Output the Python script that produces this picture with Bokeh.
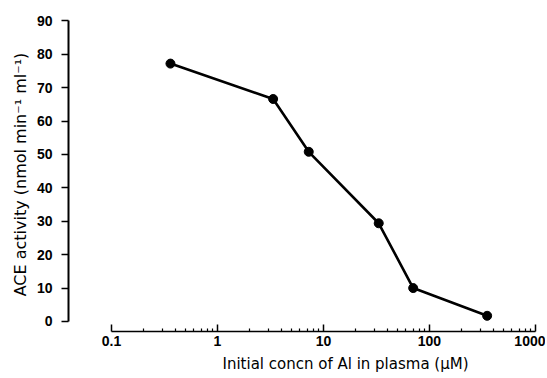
from bokeh.plotting import figure
from bokeh.models import Range1d, FixedTicker, Title
from bokeh.embed import file_html
from bokeh.resources import INLINE

# Data
conc_uM = [0.36, 3.35, 7.26, 33.2, 70.2, 350.0]
ace_activity = [77.2, 66.6, 50.8, 29.4, 10.0, 1.7]

x_ticks = [0.1, 1, 10, 100, 1000]
x_tick_labels = ["0.1", "1", "10", "100", "1000"]
y_ticks = [0, 10, 20, 30, 40, 50, 60, 70, 80, 90]

x_minor = [m * d for d in [0.1, 1, 10, 100] for m in range(2, 10)]

FONT = "Liberation Sans"
LFONT = "DejaVu Sans"

p = figure(width=545, height=376, x_axis_type="log",
           x_range=Range1d(0.0393, 1045), y_range=Range1d(-3.0, 91),
           output_backend="svg", toolbar_location=None,
           min_border_left=68, min_border_top=17, min_border_right=8,
           min_border_bottom=20)

p.outline_line_color = None
p.xgrid.visible = False
p.ygrid.visible = False
p.background_fill_color = "white"
p.border_fill_color = "white"

p.line(conc_uM, ace_activity, line_width=2.6, color="black")
p.scatter(conc_uM, ace_activity, size=9, color="black")

# y axis
ya = p.yaxis[0]
ya.ticker = FixedTicker(ticks=y_ticks)
ya.bounds = (0, 90)
ya.axis_line_width = 2
ya.axis_line_color = "black"
ya.major_tick_in = 0
ya.major_tick_out = 7
ya.major_tick_line_width = 1.5
ya.major_tick_line_color = "black"
ya.minor_tick_line_color = None
ya.major_label_standoff = 9
ya.major_label_text_font = FONT
ya.major_label_text_font_style = "bold"
ya.major_label_text_font_size = "14px"
ya.major_label_text_color = "black"
ya.axis_label = "ACE activity (nmol min\u207b\u00b9 ml\u207b\u00b9)"
ya.axis_label_text_font = LFONT
ya.axis_label_text_font_style = "normal"
ya.axis_label_text_font_size = "16px"
ya.axis_label_text_color = "black"
ya.axis_label_standoff = 4

# x axis
xa = p.xaxis[0]
xa.ticker = FixedTicker(ticks=x_ticks, minor_ticks=x_minor)
xa.major_label_overrides = {t: l for t, l in zip(x_ticks, x_tick_labels)}
xa.bounds = (0.1, 1000)
xa.axis_line_width = 1.5
xa.axis_line_color = "black"
xa.major_tick_in = 7
xa.major_tick_out = 0
xa.major_tick_line_width = 1.5
xa.major_tick_line_color = "black"
xa.minor_tick_in = 3
xa.minor_tick_out = 0
xa.minor_tick_line_width = 1.2
xa.minor_tick_line_color = "black"
xa.major_label_standoff = 4
xa.major_label_text_font = FONT
xa.major_label_text_font_style = "bold"
xa.major_label_text_font_size = "14px"
xa.major_label_text_color = "black"

xt = Title(text="Initial concn of  Al in plasma (\u03bcM)", align="left", offset=154,
           text_font=LFONT, text_font_style="normal", text_font_size="15px",
           text_color="black", standoff=8)
p.add_layout(xt, "below")

open("out.html", "w").write(file_html(p, INLINE))
